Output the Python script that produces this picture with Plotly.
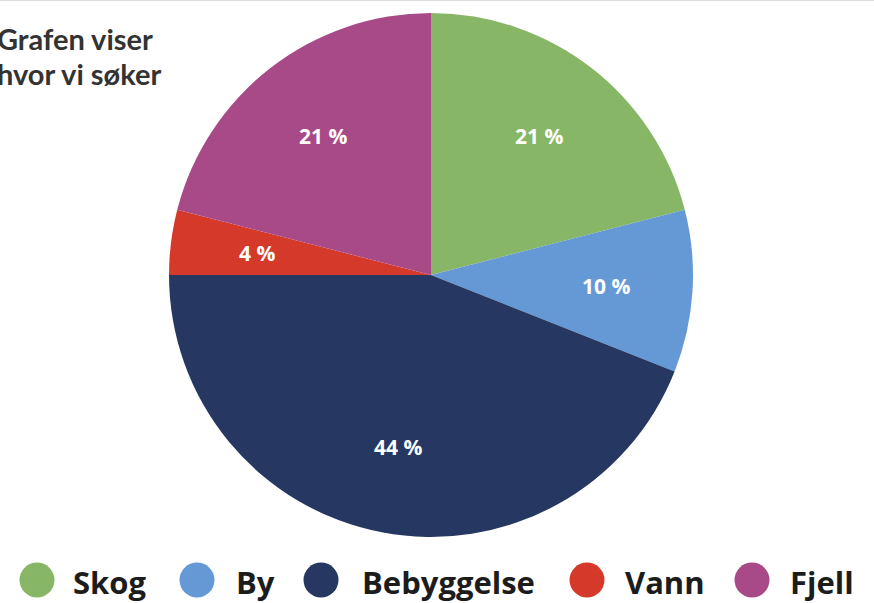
import math
import plotly.graph_objects as go

categories = ["Skog", "By", "Bebyggelse", "Vann", "Fjell"]
values = [21, 10, 44, 4, 21]
colors = ["#87b766", "#6599d6", "#263861", "#d5392a", "#a84a87"]
title_lines = ["Grafen viser", "hvor vi søker"]

W, H = 874, 603
cx, cy, r = 431, 275, 262
label_frac = 0.67

fig = go.Figure()
fig.add_trace(go.Pie(
    labels=categories,
    values=values,
    sort=False,
    direction="clockwise",
    rotation=0,
    marker=dict(colors=colors, line=dict(width=0)),
    textinfo="none",
    hoverinfo="label+percent",
    showlegend=False,
    domain=dict(x=[(cx - r) / W, (cx + r) / W],
                y=[(H - cy - r) / H, (H - cy + r) / H]),
))

annotations = []
# slice labels placed on the bisector of each slice (derived from the values)
total = sum(values)
cum = 0
for v in values:
    mid = (cum + v / 2) / total * 2 * math.pi
    cum += v
    px = cx + label_frac * r * math.sin(mid)
    py = cy - label_frac * r * math.cos(mid)
    annotations.append(dict(text=f"{v} %", xref="paper", yref="paper",
                            x=px / W, y=(H - py) / H, xanchor="center", yanchor="middle",
                            showarrow=False,
                            font=dict(family="Open Sans", size=21, color="white", weight="bold")))

# custom legend with large circles
legend_circle_x = [37, 197, 321, 587, 752]
legend_text_x = [73, 236, 362, 625, 790]
ly = 580
shapes = [dict(type="line", xref="paper", yref="paper", x0=0, x1=1, y0=1, y1=1,
               line=dict(color="#dddddd", width=2))]
for cat, col, xc, xt in zip(categories, colors, legend_circle_x, legend_text_x):
    shapes.append(dict(type="circle", xref="paper", yref="paper",
                       x0=(xc - 17.5) / W, x1=(xc + 17.5) / W,
                       y0=(H - ly - 17.5) / H, y1=(H - ly + 17.5) / H,
                       fillcolor=col, line=dict(width=0)))
    annotations.append(dict(text=cat, xref="paper", yref="paper",
                            x=(xt - 2) / W, y=(H - ly - 2) / H, xanchor="left", yanchor="middle",
                            showarrow=False,
                            font=dict(family="Open Sans", size=31, color="#1c1c1c", weight="bold")))

for line, ty in zip(title_lines, [38, 73]):
    annotations.append(dict(text=line, xref="paper", yref="paper",
                            x=-5 / W, y=(H - ty) / H, xanchor="left", yanchor="middle",
                            align="left", showarrow=False,
                            font=dict(family="Lato", size=29, color="#333333", weight="bold")))

fig.update_layout(
    width=W, height=H,
    margin=dict(l=0, r=0, t=0, b=0),
    paper_bgcolor="white",
    plot_bgcolor="white",
    shapes=shapes,
    annotations=annotations,
)

fig.write_html("out.html", config={"displayModeBar": False},
               post_script="document.body.style.margin='0';")
